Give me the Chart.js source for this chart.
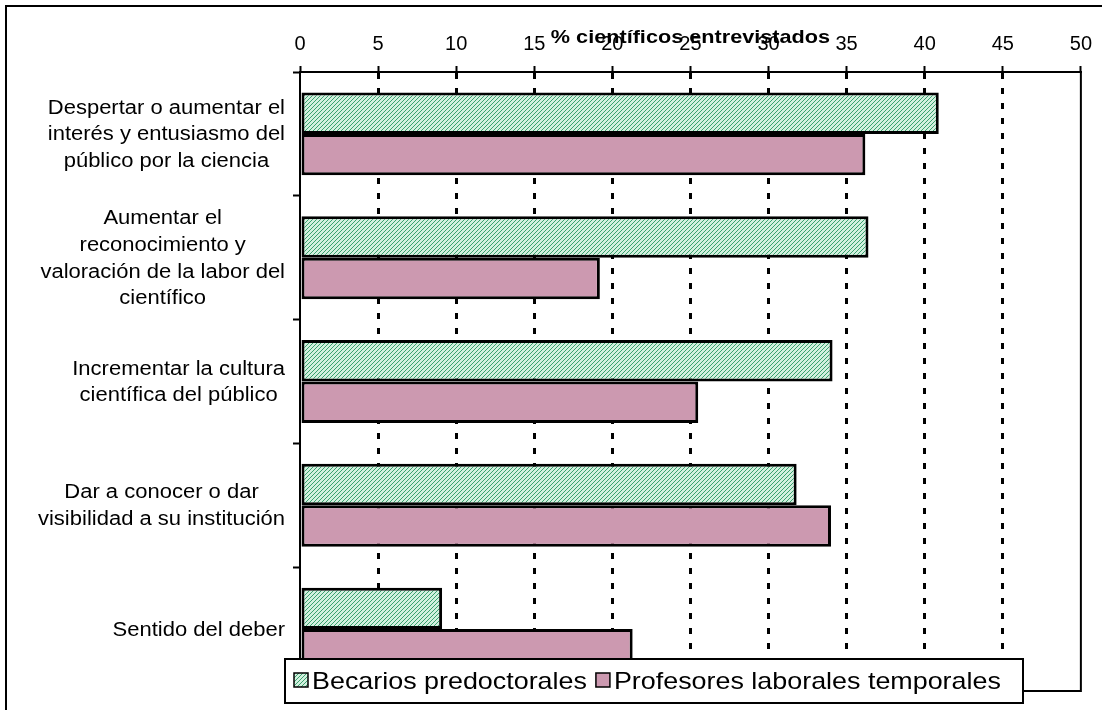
<!DOCTYPE html>
<html><head><meta charset="utf-8">
<script src="https://cdn.jsdelivr.net/npm/chart.js@4"></script>
<style>html,body{margin:0;padding:0;background:#fff;}#wrap{width:1102px;height:710px;position:relative;overflow:hidden}</style>
</head><body><div id="wrap"><canvas id="c" width="1102" height="710"></canvas></div>
<script>
const categories = [
  ["Despertar o aumentar el", "interés y entusiasmo del", "público por la ciencia"],
  ["Aumentar el", "reconocimiento y", "valoración de la labor del", "científico"],
  ["Incrementar la cultura", "científica del público"],
  ["Dar a conocer o dar", "visibilidad a su institución"],
  ["Sentido del deber"]
];
const seriesNames = ["Becarios predoctorales", "Profesores laborales temporales"];
const becarios = [40.9, 36.4, 34.1, 31.8, 9.1];
const profesores = [36.2, 19.2, 25.5, 34.0, 21.3];
const xMin = 0, xMax = 50, xStep = 5;
const axisTitle = "% científicos entrevistados";

const SX = 1.1; // horizontal stretch of text in the reference

function makeHatch() {
  const t = document.createElement('canvas');
  t.width = 4; t.height = 4;
  const g = t.getContext('2d');
  g.fillStyle = '#d2f0de';
  g.fillRect(0, 0, 4, 4);
  g.fillStyle = '#3aa06e';
  for (let i = 0; i < 4; i++) g.fillRect(3 - i, i, 1, 1);
  return g.createPattern(t, 'repeat');
}
const hatch = makeHatch();
const pink = '#cc99b0';

function stretchedText(ctx, text, x, y, sx) {
  ctx.save();
  ctx.translate(x, y);
  ctx.scale(sx, 1);
  ctx.fillText(text, 0, 0);
  ctx.restore();
}

const framePlugin = {
  id: 'frame',
  beforeDraw(chart) {
    const ctx = chart.ctx;
    ctx.save();
    ctx.fillStyle = '#fff';
    ctx.fillRect(0, 0, chart.width, chart.height);
    ctx.strokeStyle = '#000';
    ctx.lineWidth = 2;
    ctx.strokeRect(6, 6, 1200, 800);
    ctx.restore();
  },
  afterDatasetsDraw(chart) {
    const ctx = chart.ctx, a = chart.chartArea;
    ctx.save();
    ctx.strokeStyle = '#000';
    ctx.lineWidth = 2;
    ctx.beginPath();
    ctx.moveTo(a.right, a.top);
    ctx.lineTo(a.right, a.bottom);
    ctx.lineTo(a.left, a.bottom);
    ctx.stroke();
    ctx.restore();
  },
  afterDraw(chart) {
    const ctx = chart.ctx, a = chart.chartArea;
    const ys = chart.scales.y;
    ctx.save();
    ctx.fillStyle = '#000';
    // category labels
    ctx.font = '20px "Liberation Sans", Arial, sans-serif';
    ctx.textAlign = 'center';
    ctx.textBaseline = 'middle';
    const lh = 26.7, rightEdge = 285;
    chart.data.labels.forEach((lines, i) => {
      const w = Math.max(...lines.map(l => ctx.measureText(l).width)) * SX;
      const cx = rightEdge - w / 2;
      const yc = ys.getPixelForValue(i) + 1;
      lines.forEach((l, j) => stretchedText(ctx, l, cx, yc + (j - (lines.length - 1) / 2) * lh, SX));
    });
    // axis title
    ctx.font = 'bold 19px "Liberation Sans", Arial, sans-serif';
    ctx.textBaseline = 'alphabetic';
    stretchedText(ctx, axisTitle, (a.left + a.right) / 2, 43, 1.14);
    // legend
    const L = {x: 285, y: 659, w: 738, h: 44};
    ctx.fillStyle = '#fff';
    ctx.fillRect(L.x, L.y, L.w, L.h);
    ctx.strokeStyle = '#000';
    ctx.lineWidth = 2;
    ctx.strokeRect(L.x, L.y, L.w, L.h);
    ctx.font = '24px "Liberation Sans", Arial, sans-serif';
    ctx.textAlign = 'left';
    ctx.textBaseline = 'alphabetic';
    const LS = 1.12;
    let x = 294;
    chart.data.datasets.forEach(ds => {
      ctx.fillStyle = ds.backgroundColor;
      ctx.fillRect(x, 673, 14, 14);
      ctx.lineWidth = 1.5;
      ctx.strokeStyle = '#000';
      ctx.strokeRect(x, 673, 14, 14);
      ctx.fillStyle = '#000';
      ctx.save();
      ctx.translate(x + 18, 689);
      ctx.scale(LS, 1);
      ctx.fillText(ds.label, 0, 0);
      ctx.restore();
      x += 18 + ctx.measureText(ds.label).width * LS + 9;
    });
    ctx.restore();
  }
};

new Chart(document.getElementById('c'), {
  type: 'bar',
  data: {
    labels: categories,
    datasets: [
      {label: seriesNames[0], data: becarios, backgroundColor: hatch, borderColor: '#000', borderWidth: 3, borderSkipped: false},
      {label: seriesNames[1], data: profesores, backgroundColor: pink, borderColor: '#000', borderWidth: 3, borderSkipped: false}
    ]
  },
  options: {
    indexAxis: 'y',
    responsive: false,
    devicePixelRatio: 1,
    animation: false,
    categoryPercentage: 0.67,
    barPercentage: 1.0,
    layout: {padding: {left: 0, top: 0, right: 19, bottom: 19}},
    plugins: {legend: {display: false}, tooltip: {enabled: false}, title: {display: false}},
    scales: {
      x: {
        type: 'linear', position: 'top', min: xMin, max: xMax,
        ticks: {stepSize: xStep, color: '#000', font: {family: '"Liberation Sans", Arial', size: 20}, padding: 10},
        grid: {
          color: c => (c.tick && (c.tick.value === xMin || c.tick.value === xMax)) ? 'rgba(0,0,0,0)' : '#000',
          lineWidth: 3, tickColor: '#000', tickWidth: 2, tickLength: 6, drawTicks: true
        },
        border: {display: true, color: '#000', width: 2, dash: [6, 9], dashOffset: 0},
        afterFit: s => { s.height = 72; }
      },
      y: {
        type: 'category',
        ticks: {display: false},
        grid: {offset: true, drawOnChartArea: false, drawTicks: true, tickLength: 7, tickColor: '#000', tickWidth: 2},
        border: {display: true, color: '#000', width: 2},
        afterFit: s => { s.width = 300; }
      }
    }
  },
  plugins: [framePlugin]
});
</script>
</body></html>
